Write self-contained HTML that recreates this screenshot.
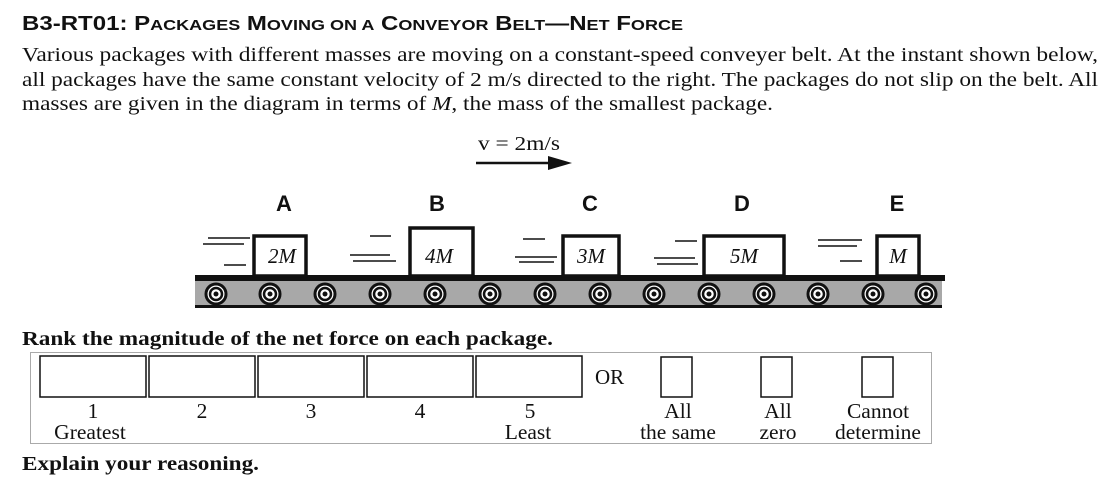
<!DOCTYPE html>
<html><head><style>
body{margin:0;width:1119px;height:481px;background:#fff;overflow:hidden}
svg{display:block}
.s{font-family:"Liberation Serif",serif;fill:#111}
.a{font-family:"Liberation Sans",sans-serif;fill:#111;font-weight:bold}
</style></head><body>
<svg width="1119" height="481" viewBox="0 0 1119 481">
<text x="22" y="30" class="a" font-size="20" textLength="661" lengthAdjust="spacingAndGlyphs">B3-RT01: P<tspan font-size="15">ACKAGES</tspan> M<tspan font-size="15">OVING ON A</tspan> C<tspan font-size="15">ONVEYOR</tspan> B<tspan font-size="15">ELT</tspan>—N<tspan font-size="15">ET</tspan> F<tspan font-size="15">ORCE</tspan></text>
<text class="s" font-size="20" x="22" y="61" textLength="1076" lengthAdjust="spacingAndGlyphs">Various packages with different masses are moving on a constant-speed conveyer belt. At the instant shown below,</text>
<text class="s" font-size="20" x="22" y="86" textLength="1076" lengthAdjust="spacingAndGlyphs">all packages have the same constant velocity of 2 m/s directed to the right. The packages do not slip on the belt. All</text>
<text class="s" font-size="20" x="22" y="110" textLength="751" lengthAdjust="spacingAndGlyphs">masses are given in the diagram in terms of <tspan font-style="italic">M</tspan>, the mass of the smallest package.</text>
<text class="s" font-size="20" x="478" y="150" textLength="82" lengthAdjust="spacingAndGlyphs">v = 2m/s</text>
<line x1="476" y1="163" x2="552" y2="163" stroke="#111" stroke-width="2.5"/>
<polygon points="548,156 572,163 548,170" fill="#111"/>
<g class="a" font-size="22" text-anchor="middle">
<text x="284" y="211">A</text><text x="437" y="211">B</text><text x="590" y="211">C</text><text x="742" y="211">D</text><text x="897" y="211">E</text></g>
<rect x="195" y="280" width="747" height="26" fill="#a8a8a8"/>
<rect x="195" y="275" width="750" height="6" fill="#111"/>
<rect x="195" y="305" width="747" height="3" fill="#111"/>
<g stroke="#111" fill="#fff">
<circle cx="216" cy="294" r="10" stroke-width="3"/><circle cx="270" cy="294" r="10" stroke-width="3"/><circle cx="325" cy="294" r="10" stroke-width="3"/><circle cx="380" cy="294" r="10" stroke-width="3"/><circle cx="435" cy="294" r="10" stroke-width="3"/><circle cx="490" cy="294" r="10" stroke-width="3"/><circle cx="545" cy="294" r="10" stroke-width="3"/><circle cx="600" cy="294" r="10" stroke-width="3"/><circle cx="654" cy="294" r="10" stroke-width="3"/><circle cx="709" cy="294" r="10" stroke-width="3"/><circle cx="764" cy="294" r="10" stroke-width="3"/><circle cx="818" cy="294" r="10" stroke-width="3"/><circle cx="873" cy="294" r="10" stroke-width="3"/><circle cx="926" cy="294" r="10" stroke-width="3"/>
</g>
<g fill="#111">
<circle cx="216" cy="294" r="2.5"/><circle cx="270" cy="294" r="2.5"/><circle cx="325" cy="294" r="2.5"/><circle cx="380" cy="294" r="2.5"/><circle cx="435" cy="294" r="2.5"/><circle cx="490" cy="294" r="2.5"/><circle cx="545" cy="294" r="2.5"/><circle cx="600" cy="294" r="2.5"/><circle cx="654" cy="294" r="2.5"/><circle cx="709" cy="294" r="2.5"/><circle cx="764" cy="294" r="2.5"/><circle cx="818" cy="294" r="2.5"/><circle cx="873" cy="294" r="2.5"/><circle cx="926" cy="294" r="2.5"/>
</g>
<g fill="none" stroke="#111" stroke-width="2.5"><circle cx="216" cy="294" r="6"/><circle cx="270" cy="294" r="6"/><circle cx="325" cy="294" r="6"/><circle cx="380" cy="294" r="6"/><circle cx="435" cy="294" r="6"/><circle cx="490" cy="294" r="6"/><circle cx="545" cy="294" r="6"/><circle cx="600" cy="294" r="6"/><circle cx="654" cy="294" r="6"/><circle cx="709" cy="294" r="6"/><circle cx="764" cy="294" r="6"/><circle cx="818" cy="294" r="6"/><circle cx="873" cy="294" r="6"/><circle cx="926" cy="294" r="6"/></g>
<g fill="#fff" stroke="#111" stroke-width="3.5">
<rect x="254" y="236" width="52" height="40"/>
<rect x="410" y="228" width="63" height="48"/>
<rect x="563" y="236" width="56" height="40"/>
<rect x="704" y="236" width="80" height="40"/>
<rect x="877" y="236" width="42" height="40"/>
</g>
<g class="s" font-size="21" font-style="italic" text-anchor="middle">
<text x="282" y="263">2M</text><text x="439" y="263">4M</text><text x="591" y="263">3M</text><text x="744" y="263">5M</text><text x="898" y="263">M</text></g>
<g stroke="#111" stroke-width="1.5">
<line x1="208" y1="238" x2="250" y2="238"/><line x1="203" y1="244" x2="244" y2="244"/><line x1="224" y1="265" x2="246" y2="265"/>
<line x1="370" y1="236" x2="391" y2="236"/><line x1="350" y1="255" x2="390" y2="255"/><line x1="353" y1="261" x2="396" y2="261"/>
<line x1="523" y1="239" x2="545" y2="239"/><line x1="515" y1="257" x2="557" y2="257"/><line x1="519" y1="262" x2="554" y2="262"/>
<line x1="675" y1="241" x2="697" y2="241"/><line x1="654" y1="258" x2="695" y2="258"/><line x1="657" y1="264" x2="698" y2="264"/>
<line x1="818" y1="240" x2="862" y2="240"/><line x1="818" y1="246" x2="857" y2="246"/><line x1="840" y1="261" x2="862" y2="261"/>
</g>
<text class="s" font-size="20" font-weight="bold" x="22" y="345" textLength="531" lengthAdjust="spacingAndGlyphs">Rank the magnitude of the net force on each package.</text>
<rect x="30.5" y="352.5" width="901" height="91" fill="none" stroke="#aaa" stroke-width="1"/>
<g fill="none" stroke="#111" stroke-width="1.5">
<rect x="40" y="356" width="106" height="41"/>
<rect x="149" y="356" width="106" height="41"/>
<rect x="258" y="356" width="106" height="41"/>
<rect x="367" y="356" width="106" height="41"/>
<rect x="476" y="356" width="106" height="41"/>
</g>
<text class="s" font-size="21" x="595" y="384">OR</text>
<g fill="none" stroke="#111" stroke-width="1.5">
<rect x="661" y="357" width="31" height="40"/><rect x="761" y="357" width="31" height="40"/><rect x="862" y="357" width="31" height="40"/>
</g>
<g class="s" font-size="21.5" text-anchor="middle">
<text x="93" y="418">1</text><text x="202" y="418">2</text><text x="311" y="418">3</text><text x="420" y="418">4</text><text x="530" y="418">5</text>
<text x="90" y="439">Greatest</text><text x="528" y="439">Least</text>
<text x="678" y="418">All</text><text x="678" y="439">the same</text>
<text x="778" y="418">All</text><text x="778" y="439">zero</text>
<text x="878" y="418">Cannot</text><text x="878" y="439">determine</text>
</g>
<text class="s" font-size="20" font-weight="bold" x="22" y="470" textLength="237" lengthAdjust="spacingAndGlyphs">Explain your reasoning.</text>
</svg>
</body></html>
